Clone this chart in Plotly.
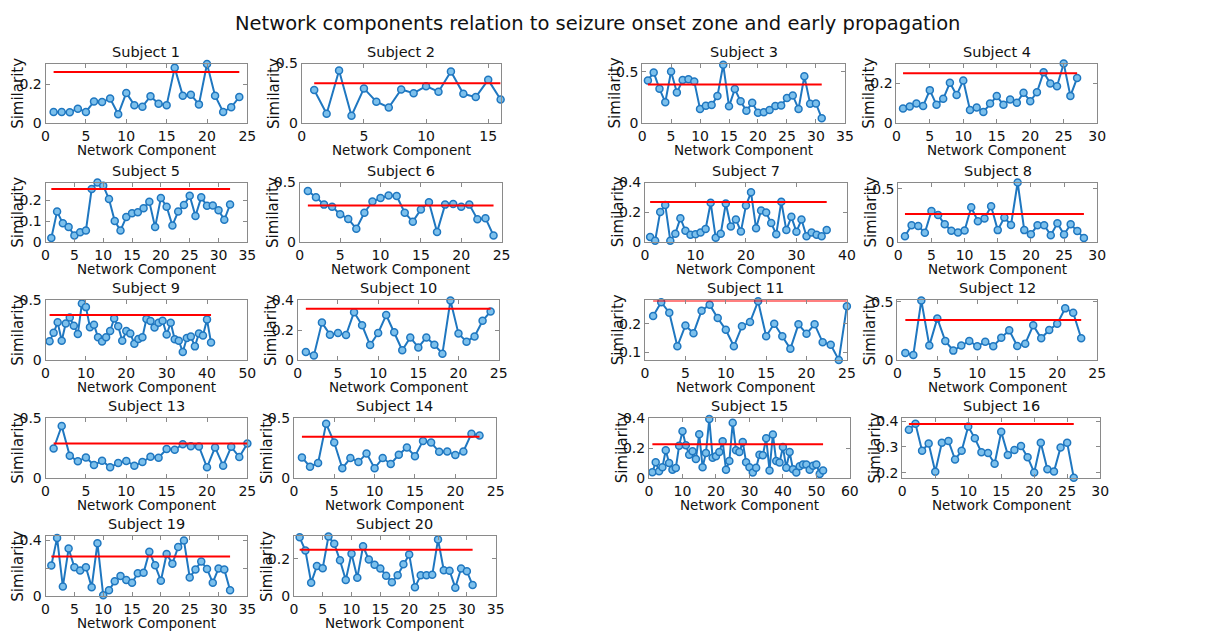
import plotly.graph_objects as go

# Similarity of each network component, per subject
subject_ids = [1, 2, 3, 4, 5, 6, 7, 8, 9, 10, 11, 12, 13, 14, 15, 16, 19, 20]

s1 = [0.057, 0.057, 0.055, 0.074, 0.057, 0.111, 0.108, 0.126, 0.045, 0.155, 0.092, 0.084,
      0.138, 0.099, 0.092, 0.284, 0.141, 0.146, 0.096, 0.304, 0.141, 0.057, 0.081, 0.134]
s2 = [0.277, 0.078, 0.441, 0.061, 0.291, 0.179, 0.131, 0.282, 0.251, 0.310, 0.263, 0.433,
      0.246, 0.218, 0.363, 0.198]
s3 = [0.416, 0.494, 0.334, 0.203, 0.503, 0.297, 0.419, 0.428, 0.406, 0.138, 0.169, 0.175,
      0.263, 0.569, 0.163, 0.331, 0.213, 0.119, 0.197, 0.100, 0.106, 0.128, 0.166, 0.172,
      0.244, 0.269, 0.138, 0.456, 0.188, 0.191, 0.047]
s4 = [0.073, 0.083, 0.098, 0.086, 0.166, 0.092, 0.122, 0.203, 0.141, 0.215, 0.066, 0.078,
      0.056, 0.098, 0.136, 0.092, 0.119, 0.102, 0.153, 0.110, 0.155, 0.256, 0.200, 0.186,
      0.300, 0.137, 0.227]
s5 = [0.019, 0.145, 0.089, 0.071, 0.031, 0.047, 0.055, 0.253, 0.284, 0.269, 0.205, 0.100,
      0.055, 0.119, 0.137, 0.142, 0.161, 0.192, 0.071, 0.210, 0.168, 0.079, 0.145, 0.176,
      0.221, 0.124, 0.213, 0.173, 0.174, 0.152, 0.106, 0.179]
s6 = [0.429, 0.377, 0.314, 0.297, 0.234, 0.194, 0.111, 0.246, 0.340, 0.369, 0.391, 0.386,
      0.246, 0.171, 0.274, 0.334, 0.083, 0.314, 0.320, 0.297, 0.314, 0.191, 0.200, 0.054]
s7 = [0.033, 0.009, 0.202, 0.249, 0.009, 0.056, 0.160, 0.075, 0.049, 0.052, 0.064, 0.087,
      0.264, 0.028, 0.056, 0.259, 0.104, 0.151, 0.071, 0.245, 0.334, 0.092, 0.212, 0.198,
      0.127, 0.052, 0.271, 0.080, 0.169, 0.068, 0.151, 0.038, 0.064, 0.049, 0.038, 0.080]
s8 = [0.054, 0.156, 0.150, 0.086, 0.290, 0.252, 0.166, 0.105, 0.089, 0.108, 0.325, 0.194,
      0.220, 0.334, 0.111, 0.229, 0.159, 0.557, 0.111, 0.073, 0.156, 0.156, 0.064, 0.175,
      0.070, 0.166, 0.102, 0.038]
s9 = [0.158, 0.228, 0.316, 0.161, 0.307, 0.357, 0.287, 0.219, 0.474, 0.444, 0.275, 0.295,
      0.190, 0.155, 0.190, 0.243, 0.348, 0.284, 0.161, 0.243, 0.222, 0.137, 0.175, 0.190,
      0.345, 0.327, 0.272, 0.313, 0.330, 0.213, 0.313, 0.173, 0.161, 0.067, 0.184, 0.196,
      0.114, 0.222, 0.205, 0.339, 0.146]
s10 = [0.053, 0.030, 0.251, 0.170, 0.181, 0.167, 0.321, 0.233, 0.100, 0.181, 0.302, 0.186,
       0.065, 0.151, 0.084, 0.151, 0.102, 0.042, 0.400, 0.177, 0.123, 0.158, 0.263, 0.326]
s11 = [0.227, 0.276, 0.239, 0.121, 0.194, 0.167, 0.246, 0.267, 0.220, 0.179, 0.121, 0.191,
       0.206, 0.279, 0.156, 0.200, 0.156, 0.112, 0.198, 0.165, 0.198, 0.135, 0.126, 0.073,
       0.262]
s12 = [0.060, 0.043, 0.511, 0.123, 0.357, 0.163, 0.080, 0.123, 0.163, 0.117, 0.157, 0.117,
       0.191, 0.254, 0.120, 0.140, 0.297, 0.186, 0.257, 0.311, 0.443, 0.406, 0.186]
s13 = [0.247, 0.436, 0.186, 0.139, 0.172, 0.108, 0.144, 0.089, 0.125, 0.142, 0.103, 0.133,
       0.178, 0.169, 0.242, 0.236, 0.283, 0.267, 0.264, 0.089, 0.256, 0.103, 0.261, 0.175,
       0.289]
s14 = [0.172, 0.094, 0.125, 0.456, 0.297, 0.081, 0.167, 0.133, 0.206, 0.081, 0.167, 0.117,
       0.194, 0.256, 0.183, 0.311, 0.297, 0.219, 0.222, 0.192, 0.222, 0.372, 0.356]
s15 = [0.038, 0.106, 0.045, 0.072, 0.186, 0.100, 0.054, 0.066, 0.217, 0.314, 0.219, 0.156,
       0.179, 0.127, 0.294, 0.072, 0.167, 0.396, 0.136, 0.145, 0.174, 0.247, 0.054, 0.113,
       0.371, 0.186, 0.174, 0.242, 0.106, 0.072, 0.036, 0.068, 0.156, 0.152, 0.267, 0.050,
       0.292, 0.113, 0.104, 0.208, 0.068, 0.174, 0.059, 0.036, 0.079, 0.090, 0.090, 0.054,
       0.081, 0.090, 0.027, 0.050]
s16 = [0.366, 0.389, 0.285, 0.313, 0.204, 0.316, 0.323, 0.251, 0.285, 0.379, 0.333, 0.279,
       0.276, 0.235, 0.358, 0.269, 0.288, 0.303, 0.260, 0.201, 0.316, 0.213, 0.205, 0.298,
       0.316, 0.181]
s19 = [0.219, 0.419, 0.067, 0.342, 0.207, 0.184, 0.207, 0.063, 0.381, 0.005, 0.040, 0.105,
       0.144, 0.114, 0.095, 0.163, 0.167, 0.319, 0.221, 0.109, 0.302, 0.233, 0.353, 0.400,
       0.133, 0.191, 0.249, 0.195, 0.095, 0.198, 0.191, 0.040]
s20 = [0.315, 0.244, 0.071, 0.161, 0.149, 0.320, 0.280, 0.191, 0.085, 0.227, 0.097, 0.267,
       0.195, 0.168, 0.147, 0.108, 0.073, 0.111, 0.170, 0.223, 0.046, 0.111, 0.111, 0.113,
       0.303, 0.138, 0.135, 0.044, 0.147, 0.133, 0.058]

series = [s1, s2, s3, s4, s5, s6, s7, s8, s9, s10, s11, s12, s13, s14, s15, s16, s19, s20]

# Overlap threshold drawn as a horizontal reference line
thresholds = [0.262, 0.335, 0.375, 0.251, 0.253, 0.306, 0.268, 0.261, 0.377, 0.344,
              0.282, 0.343, 0.289, 0.347, 0.226, 0.388, 0.284, 0.248]

# Axis limits and ticks
x_max = [25, 16, 35, 30, 35, 25, 40, 30, 50, 25, 25, 25, 25, 25, 60, 30, 35, 35]
x_step = [5, 5, 5, 5, 5, 5, 10, 5, 10, 5, 5, 5, 5, 5, 10, 5, 5, 5]
y_lo = [0, 0, 0, 0, 0, 0, 0, 0, 0, 0, 0.073, 0, 0, 0, 0, 0.18, 0, 0]
y_hi = [0.306, 0.5, 0.58, 0.30, 0.284, 0.5, 0.4, 0.557, 0.5, 0.4, 0.282, 0.511, 0.5, 0.5,
        0.4, 0.41, 0.43, 0.32]
y_ticks = [[0, 0.2], [0, 0.5], [0, 0.5], [0, 0.2], [0, 0.1, 0.2], [0, 0.5], [0, 0.2, 0.4],
           [0, 0.5], [0, 0.5], [0, 0.2, 0.4], [0.1, 0.2], [0, 0.5], [0, 0.5], [0, 0.5],
           [0, 0.2, 0.4], [0.2, 0.3, 0.4], [0, 0.2, 0.4], [0, 0.2]]
y_ticktext = [["0", "0.2"], ["0", "0.5"], ["0", "0.5"], ["0", "0.2"], ["0", "0.1", "0.2"],
              ["0", "0.5"], ["0", "0.2", "0.4"], ["0", "0.5"], ["0", "0.5"],
              ["0", "0.2", "0.4"], ["0.1", "0.2"], ["0", "0.5"], ["0", "0.5"], ["0", "0.5"],
              ["0", "0.2", "0.4"], ["0.2", "0.3", "0.4"], ["0", "", "0.4"], ["0", "0.2"]]

# Panel placement in pixels (left, right) and row tops
W, H = 1215, 637
panel_x = [(42, 246), (301, 502), (645, 850), (902, 1105),
           (42, 246), (299, 503), (648, 852), (904, 1105),
           (42, 246), (297, 500), (648, 852), (903, 1105),
           (42, 246), (293, 497), (652, 855), (908, 1108),
           (42, 246), (293, 497)]
row_top = [57, 179, 300, 421, 542]
panel_h = 61

FONT = "DejaVu Sans"
BLUE = "#1f77c0"
FACE = "#7cc0ec"
FRAME = "#8a8a8a"

fig = go.Figure()
layout = {}
annotations = []

for i, (sid, vals) in enumerate(zip(subject_ids, series)):
    k = i + 1
    xa = "x" if k == 1 else f"x{k}"
    ya = "y" if k == 1 else f"y{k}"
    comps = list(range(1, len(vals) + 1))

    fig.add_trace(go.Scatter(
        x=comps, y=vals, xaxis=xa, yaxis=ya, mode="lines+markers",
        line=dict(color=BLUE, width=2),
        marker=dict(symbol="circle", size=7, color=FACE, line=dict(color=BLUE, width=1.5)),
        cliponaxis=False, showlegend=False, hoverinfo="x+y"))
    fig.add_trace(go.Scatter(
        x=[comps[0], comps[-1]], y=[thresholds[i], thresholds[i]], xaxis=xa, yaxis=ya,
        mode="lines", line=dict(color="#ff0000", width=2),
        cliponaxis=False, showlegend=False, hoverinfo="y"))

    r = i // 4
    left, right = panel_x[i]
    top = row_top[r]
    bottom = top + panel_h
    xkey = "xaxis" if k == 1 else f"xaxis{k}"
    ykey = "yaxis" if k == 1 else f"yaxis{k}"
    common = dict(showline=True, linecolor=FRAME, linewidth=1, mirror="allticks",
                  ticks="inside", ticklen=4, tickcolor=FRAME, showgrid=False,
                  zeroline=False, tickfont=dict(family=FONT, size=14, color="#111"))
    layout[xkey] = dict(domain=[left / W, right / W], anchor=ya,
                        range=[0, x_max[i]], tickmode="linear", tick0=0, dtick=x_step[i],
                        **common)
    layout[ykey] = dict(domain=[1 - bottom / H, 1 - top / H], anchor=xa,
                        range=[y_lo[i], y_hi[i]], tickmode="array",
                        tickvals=y_ticks[i], ticktext=y_ticktext[i], **common)

    dom_x = f"{xa} domain"
    dom_y = f"{ya} domain"
    annotations.append(dict(text=f"Subject {sid}", xref=dom_x, yref=dom_y, x=0.5, y=1,
                            yshift=12, xanchor="center", yanchor="middle", showarrow=False,
                            font=dict(family=FONT, size=14.5, color="#111")))
    annotations.append(dict(text="Network Component", xref=dom_x, yref=dom_y, x=0.5, y=0,
                            yshift=-27, xanchor="center", yanchor="middle", showarrow=False,
                            font=dict(family=FONT, size=13.5, color="#111")))
    annotations.append(dict(text="Similarity", xref=dom_x, yref=dom_y, x=0, y=0.5,
                            xshift=-27, xanchor="center", yanchor="middle", textangle=-90,
                            showarrow=False, font=dict(family=FONT, size=15, color="#111")))

annotations.append(dict(text="Network components relation to seizure onset zone and early propagation",
                        xref="paper", yref="paper", x=600 / W, y=1 - 16 / H,
                        xanchor="center", yanchor="middle", showarrow=False,
                        font=dict(family=FONT, size=19.5, color="#111")))

fig.update_layout(
    width=W, height=H, margin=dict(l=0, r=0, t=0, b=0),
    paper_bgcolor="white", plot_bgcolor="white",
    font=dict(family=FONT, color="#111"),
    annotations=annotations, **layout)

fig.write_html("out.html")
